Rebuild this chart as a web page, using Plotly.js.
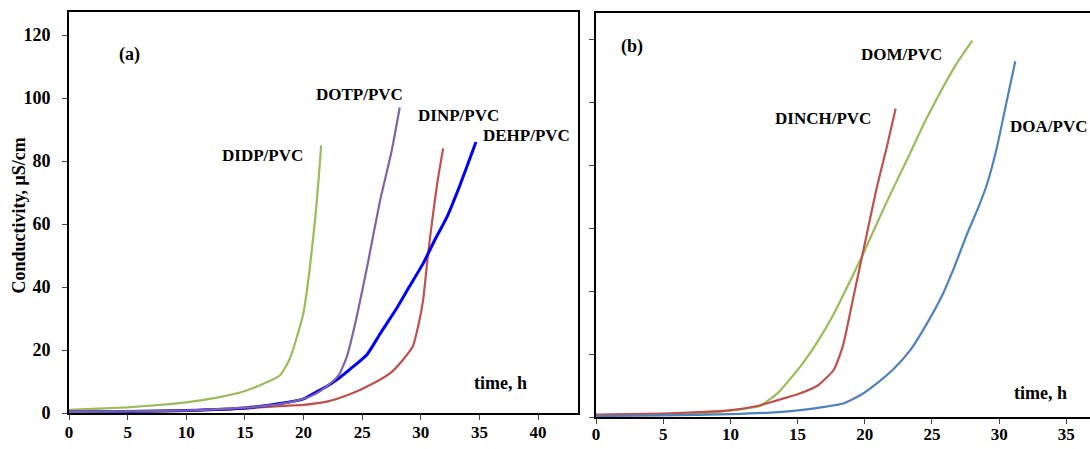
<!DOCTYPE html>
<html><head><meta charset="utf-8">
<script src="https://cdn.plot.ly/plotly-3.0.1.min.js"></script>
<style>html,body{margin:0;padding:0;background:#fff}#chart{width:1090px;height:449px}</style>
</head><body><div id="chart"></div>
<script>
// Panel (a)
const didpX = [0, 2.5, 5, 7.5, 10, 12.5, 15, 17, 18, 18.8, 19.5, 20, 20.5, 21, 21.3, 21.5];
const didpY = [1, 1.4, 1.8, 2.5, 3.4, 4.8, 7, 10, 12, 17, 25, 32, 45, 62, 75, 85];
const dotpX = [0, 5, 10, 15, 18, 20, 21, 22, 23, 23.7, 24.5, 25.4, 26.5, 27.5, 28.2];
const dotpY = [0.3, 0.5, 0.8, 1.7, 2.8, 4.5, 6, 8.5, 12, 18, 30, 46, 67, 83, 97];
const dinpX = [0, 5, 10, 15, 18, 20, 22, 24, 26, 27.5, 28.5, 29.3, 29.8, 30.2, 30.6, 31, 31.4, 31.9];
const dinpY = [0.2, 0.4, 0.7, 1.4, 2.2, 2.6, 3.6, 6, 9.5, 13, 17, 21, 28, 36, 50, 62, 73, 84];
const dehpX = [0, 5, 10, 15, 18, 20, 21, 22, 23, 24, 25.4, 26.5, 27.9, 29, 30.2, 31.2, 32.2, 33.3, 34.4, 34.7];
const dehpY = [0.3, 0.5, 0.8, 1.6, 3, 4.5, 6.5, 8.5, 11, 14, 18.5, 25, 33, 40, 47.5, 55, 62, 72, 83, 86];
// Panel (b)
const domX = [0, 5, 8, 10, 11, 12.2, 13.5, 15.2, 16.5, 17.6, 19, 19.9, 21.6, 23.4, 24.5, 25.6, 26.8, 28];
const domY = [0.5, 0.8, 1.2, 2, 2.6, 3.5, 7.5, 16, 24, 32, 44, 52, 68, 84, 94, 103, 112, 119.5];
const dinchX = [0, 5, 8, 10, 12, 13.4, 15, 16.5, 17.7, 18.4, 19.1, 20.1, 20.9, 21.6, 22.3];
const dinchY = [0.8, 1.1, 1.6, 2.2, 3.5, 5.2, 7.2, 10, 15, 23, 37, 57, 73, 85, 98];
const doaX = [0, 5, 10, 13, 15.2, 17, 18.4, 19.7, 20.9, 22.2, 23.4, 24.6, 25.8, 26.7, 27.6, 28.4, 29.1, 29.8, 30.5, 31.2];
const doaY = [0.3, 0.5, 0.9, 1.4, 2.2, 3.2, 4.3, 7, 10.7, 15.5, 21.3, 29.5, 39, 48, 58, 66, 74, 85, 99, 113];

const leftTicksX = [0, 5, 10, 15, 20, 25, 30, 35, 40];
const rightTicksX = [0, 5, 10, 15, 20, 25, 30, 35];
const ticksY = [0, 20, 40, 60, 80, 100, 120];
const yTitle = 'Conductivity, μS/cm';

const F = 'Liberation Serif, Times New Roman, serif';
function tr(x, y, color, w, xa, ya, name) {
  return {x: x, y: y, mode: 'lines', name: name, xaxis: xa, yaxis: ya,
    line: {color: color, width: w, shape: 'spline', smoothing: 0.5}, hoverinfo: 'x+y+name'};
}
const data = [
  tr(didpX, didpY, '#9BBB59', 2.2, 'x', 'y', 'DIDP/PVC'),
  tr(dinpX, dinpY, '#C0504D', 2.2, 'x', 'y', 'DINP/PVC'),
  tr(dehpX, dehpY, '#0000FF', 3, 'x', 'y', 'DEHP/PVC'),
  tr(dotpX, dotpY, '#8064A2', 2.2, 'x', 'y', 'DOTP/PVC'),
  tr(domX, domY, '#9BBB59', 2.2, 'x2', 'y2', 'DOM/PVC'),
  tr(dinchX, dinchY, '#C0504D', 2.2, 'x2', 'y2', 'DINCH/PVC'),
  tr(doaX, doaY, '#4F81BD', 2.2, 'x2', 'y2', 'DOA/PVC')
];
const tfY = {family: F, size: 18, color: '#000', weight: 'bold'};
const tfX = {family: F, size: 17, color: '#000', weight: 'bold'};
const axBase = {showgrid: false, zeroline: false, showline: true, linecolor: '#000', linewidth: 2,
  ticks: 'outside', ticklen: 5, tickcolor: '#444', automargin: false, fixedrange: true};
function ann(text, x, y, xr, yr, size, angle) {
  return {text: '<b>' + text + '</b>', x: x, y: y, xref: xr, yref: yr, showarrow: false, textangle: angle || 0,
    font: {family: F, size: size || 17, color: '#000'}, xanchor: 'center', yanchor: 'middle'};
}
const layout = {
  width: 1090, height: 449, showlegend: false,
  margin: {l: 0, r: 0, t: 0, b: 0},
  paper_bgcolor: '#fff', plot_bgcolor: '#fff',
  xaxis: Object.assign({}, axBase, {domain: [69/1090, 578/1090], range: [0, 43.4], tickvals: leftTicksX, tickfont: tfX, mirror: true, anchor: 'y', ticklabelstandoff: -2}),
  yaxis: Object.assign({}, axBase, {domain: [36/449, 437/449], range: [0, 127.3], tickvals: ticksY, tickfont: tfY, mirror: true, anchor: 'x', ticklabelstandoff: 8}),
  xaxis2: Object.assign({}, axBase, {domain: [596/1090, 1], range: [0, 36.76], tickvals: rightTicksX, tickfont: tfX, mirror: true, anchor: 'y2', ticklabelstandoff: -4}),
  yaxis2: Object.assign({}, axBase, {domain: [32/449, 436/449], range: [0, 128.3], tickvals: ticksY, showticklabels: false, anchor: 'x2'}),
  annotations: [
    ann(yTitle, 19/1090, 0.52, 'paper', 'paper', 18, -90),
    ann('(a)', 5.2, 113.7, 'x', 'y', 18),
    ann('DIDP/PVC', 16.5, 81.9, 'x', 'y'),
    ann('DOTP/PVC', 24.8, 101, 'x', 'y'),
    ann('DINP/PVC', 33.2, 94.6, 'x', 'y'),
    ann('DEHP/PVC', 39.0, 88, 'x', 'y'),
    ann('time, h', 36.8, 9.5, 'x', 'y', 18),
    ann('(b)', 2.66, 117.6, 'x2', 'y2', 18),
    ann('DOM/PVC', 22.7, 115.2, 'x2', 'y2'),
    ann('DINCH/PVC', 16.9, 94.8, 'x2', 'y2'),
    ann('DOA/PVC', 33.7, 92.2, 'x2', 'y2'),
    ann('time, h', 33.1, 7.7, 'x2', 'y2', 18)
  ]
};
Plotly.newPlot('chart', data, layout, {displayModeBar: false, staticPlot: true});
</script>
</body></html>
